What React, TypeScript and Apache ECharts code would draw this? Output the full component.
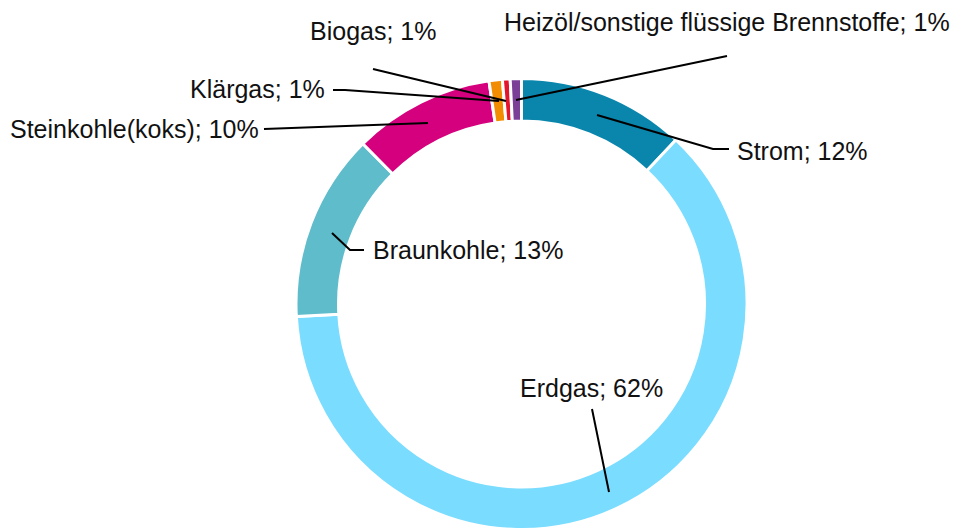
import React, { useEffect, useRef } from "react";
import * as echarts from "echarts";

const categories = [
  "Strom",
  "Erdgas",
  "Braunkohle",
  "Steinkohle(koks)",
  "Klärgas",
  "Biogas",
  "Heizöl/sonstige flüssige Brennstoffe",
];
const values = [12.0, 62.0, 13.45, 10.1, 0.95, 0.55, 0.8];
const colors = ["#0A86AD", "#7ADCFF", "#5FBCCB", "#D5007D", "#F28C00", "#E5142D", "#7B3F98"];

// label placement (layout only): text left/middle, leader line points
const labelPlacement = [
  { x: 737, y: 151, line: [[597, 115], [713, 149], [729, 149]] },
  { x: 520, y: 388, line: [[609, 492], [592, 409]] },
  { x: 373, y: 250, line: [[332, 233], [350, 250], [364, 250]] },
  { x: 10, y: 129, line: [[428, 123], [264, 129]] },
  { x: 190, y: 89, line: [[499, 101], [345, 90], [333, 90]] },
  { x: 310, y: 31, line: [[506, 101], [373, 69]] },
  { x: 504, y: 22, line: [[516, 100], [727, 56]] },
];

export default function App() {
  const ref = useRef<HTMLDivElement>(null);
  useEffect(() => {
    document.body.style.margin = "0";
    const chart = echarts.init(ref.current!, null, { renderer: "svg" });
    chart.setOption({
      animation: false,
      backgroundColor: "#ffffff",
      graphic: labelPlacement.map((pl) => ({
        type: "polyline",
        z: 100,
        silent: true,
        shape: { points: pl.line },
        style: { stroke: "#000000", lineWidth: 2, fill: null },
      })),
      series: [
        {
          type: "pie",
          center: [521.5, 304],
          radius: [183, 225.5],
          startAngle: 90,
          clockwise: true,
          avoidLabelOverlap: false,
          itemStyle: { borderColor: "#ffffff", borderWidth: 3 },
          label: {
            show: true,
            position: "outside",
            color: "#111111",
            fontSize: 25,
            fontFamily: "Liberation Sans, Arial, sans-serif",
            formatter: (p: any) => `${p.name}; ${Math.round(p.percent)}%`,
          },
          labelLine: { show: false },
          labelLayout: (params: any) => {
            const pl = labelPlacement[params.dataIndex];
            return { x: pl.x, y: pl.y, align: "left", verticalAlign: "middle" };
          },
          data: categories.map((name, i) => ({
            name,
            value: values[i],
            itemStyle: { color: colors[i] },
          })),
        },
      ],
    });
    return () => chart.dispose();
  }, []);
  return <div ref={ref} style={{ width: 954, height: 528 }} />;
}
